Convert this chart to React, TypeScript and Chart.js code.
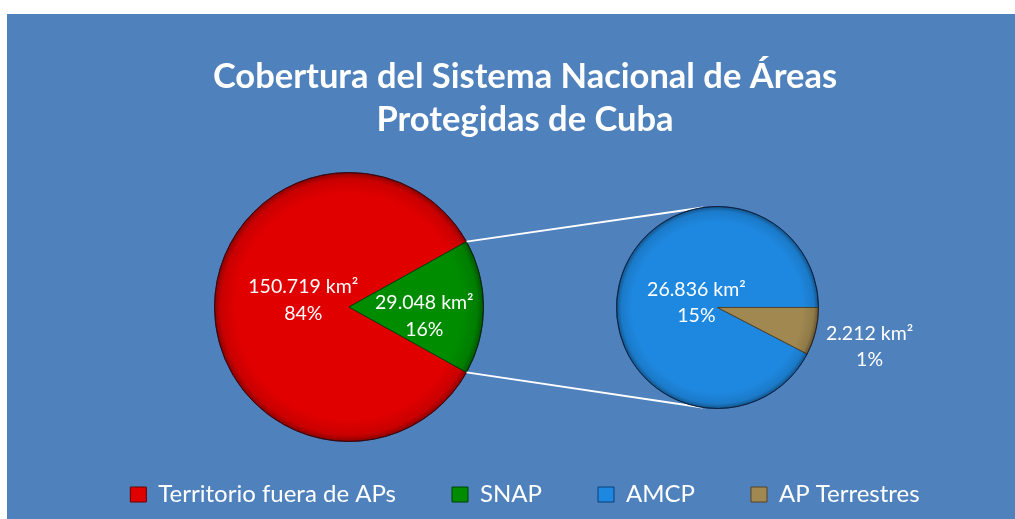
import React, { useEffect, useRef } from "react";
import { Chart, registerables } from "chart.js";
Chart.register(...registerables);

const TITLE_LINES = ["Cobertura del Sistema Nacional de Áreas", "Protegidas de Cuba"];
const CATEGORIES = ["Territorio fuera de APs", "SNAP", "AMCP", "AP Terrestres"];
const PRIMARY_LABELS = ["Territorio fuera de APs", "SNAP"];
const PRIMARY_VALUES = [150719, 29048];
const SECONDARY_LABELS = ["AMCP", "AP Terrestres"];
const SECONDARY_VALUES = [26836, 2212];
const UNIT = " km²";

const COLORS = ["#E00000", "#008C00", "#1E88E0", "#A08850"];
const BORDER_COLORS = ["#6A0000", "#004200", "#0A3F78", "#564524"];
const BG = "#4F81BD";
const FONT = "Lato";
const W = 1008;
const H = 505;

const TOTAL = PRIMARY_VALUES.reduce((a, b) => a + b, 0);
const SEC_TOTAL = SECONDARY_VALUES.reduce((a, b) => a + b, 0);

function fmt(v: number) {
  return String(v).replace(/\B(?=(\d{3})+(?!\d))/g, ".");
}

function pieDecorPlugin(id: string, values: number[], factors: number[], shifts: number[][]) {
  return {
    id,
    afterDatasetsDraw(chart: any) {
      const meta = chart.getDatasetMeta(0);
      const arcs = meta.data;
      if (!arcs.length) return;
      const ctx = chart.ctx as CanvasRenderingContext2D;
      const { x, y, outerRadius: R } = arcs[0].getProps(["x", "y", "outerRadius"], true);
      ctx.save();
      const g = ctx.createRadialGradient(x, y, R * 0.84, x, y, R);
      g.addColorStop(0, "rgba(0,0,0,0)");
      g.addColorStop(0.7, "rgba(0,0,0,0.1)");
      g.addColorStop(1, "rgba(0,0,0,0.38)");
      ctx.beginPath();
      ctx.arc(x, y, R, 0, Math.PI * 2);
      ctx.fillStyle = g;
      ctx.fill();
      ctx.lineWidth = 1;
      ctx.strokeStyle = "rgba(20,20,40,0.6)";
      ctx.stroke();

      ctx.fillStyle = "#ffffff";
      ctx.font = `19.5px ${FONT}`;
      ctx.textAlign = "center";
      ctx.textBaseline = "middle";
      arcs.forEach((arc: any, i: number) => {
        const p = arc.getProps(["startAngle", "endAngle"], true);
        const mid = (p.startAngle + p.endAngle) / 2;
        const cx = x + Math.cos(mid) * R * factors[i] + shifts[i][0];
        const cy = y + Math.sin(mid) * R * factors[i] + shifts[i][1];
        ctx.fillText(fmt(values[i]) + UNIT, cx, cy - 13);
        ctx.fillText(Math.round((values[i] / TOTAL) * 100) + "%", cx, cy + 13.5);
      });
      ctx.restore();
    },
  };
}

export default function App() {
  const frameRef = useRef<HTMLCanvasElement | null>(null);
  const leftRef = useRef<HTMLCanvasElement | null>(null);
  const rightRef = useRef<HTMLCanvasElement | null>(null);

  useEffect(() => {
    Chart.defaults.font.family = FONT;

    const frame = new Chart(frameRef.current as HTMLCanvasElement, {
      type: "pie",
      data: { labels: CATEGORIES, datasets: [] },
      options: {
        responsive: false,
        animation: false,
        devicePixelRatio: 1,
        layout: { padding: { left: 28, right: 0, top: 0, bottom: 2.5 } },
        plugins: {
          tooltip: { enabled: false },
          title: {
            display: true,
            text: TITLE_LINES,
            color: "#ffffff",
            font: { size: 34.5, weight: "bold", family: FONT, lineHeight: 1.26 },
            padding: { top: 41, bottom: 0 },
          },
          legend: {
            display: true,
            position: "bottom",
            labels: {
              color: "#ffffff",
              font: { size: 24, family: FONT },
              boxWidth: 16,
              boxHeight: 15,
              padding: 56,
              generateLabels: () =>
                CATEGORIES.map((text, i) => ({
                  text,
                  fillStyle: COLORS[i],
                  strokeStyle: BORDER_COLORS[i],
                  lineWidth: 1,
                  hidden: false,
                  index: i,
                  fontColor: "#ffffff",
                })),
            },
          },
        },
      } as any,
    });

    const left = new Chart(leftRef.current as HTMLCanvasElement, {
      type: "pie",
      data: {
        labels: PRIMARY_LABELS,
        datasets: [
          {
            data: PRIMARY_VALUES,
            backgroundColor: COLORS.slice(0, 2),
            borderColor: BORDER_COLORS.slice(0, 2),
            borderWidth: 1,
          },
        ],
      },
      options: {
        responsive: false,
        animation: false,
        devicePixelRatio: 1,
        rotation: 90 + (180 * PRIMARY_VALUES[1]) / TOTAL,
        layout: { padding: { left: 207, right: 531, top: 158, bottom: 77 } },
        plugins: {
          legend: { display: false },
          title: { display: false },
          tooltip: { enabled: false },
        },
      } as any,
      plugins: [pieDecorPlugin("leftDecor", PRIMARY_VALUES, [0.34, 0.56], [[0, -7], [0, 9]])],
    });

    const connectorPlugin = {
      id: "connectors",
      beforeDatasetsDraw(chart: any) {
        const la = left.getDatasetMeta(0).data[1] as any;
        const ra = chart.getDatasetMeta(0).data[0] as any;
        if (!la || !ra) return;
        const L = la.getProps(["x", "y", "outerRadius", "startAngle", "endAngle"], true);
        const Rp = ra.getProps(["x", "y", "outerRadius"], true);
        const ctx = chart.ctx as CanvasRenderingContext2D;
        ctx.save();
        ctx.strokeStyle = "#ffffff";
        ctx.lineWidth = 2;
        const ends: [number, number][] = [
          [L.startAngle, -1],
          [L.endAngle, 1],
        ];
        ends.forEach(([ang, sign]) => {
          const px = L.x + L.outerRadius * Math.cos(ang);
          const py = L.y + L.outerRadius * Math.sin(ang);
          const dx = Rp.x - px;
          const dy = Rp.y - py;
          const d = Math.hypot(dx, dy);
          const theta = Math.atan2(dy, dx);
          const alpha = Math.asin(Rp.outerRadius / d);
          const len = Math.sqrt(d * d - Rp.outerRadius * Rp.outerRadius);
          const phi = theta + sign * alpha;
          ctx.beginPath();
          ctx.moveTo(px, py);
          ctx.lineTo(px + len * Math.cos(phi), py + len * Math.sin(phi));
          ctx.stroke();
        });
        ctx.restore();
      },
    };

    const right = new Chart(rightRef.current as HTMLCanvasElement, {
      type: "pie",
      data: {
        labels: SECONDARY_LABELS,
        datasets: [
          {
            data: SECONDARY_VALUES,
            backgroundColor: COLORS.slice(2, 4),
            borderColor: BORDER_COLORS.slice(2, 4),
            borderWidth: 1,
          },
        ],
      },
      options: {
        responsive: false,
        animation: false,
        devicePixelRatio: 1,
        rotation: 90 + (360 * SECONDARY_VALUES[1]) / SEC_TOTAL,
        layout: { padding: { left: 609, right: 196, top: 192, bottom: 110 } },
        plugins: {
          legend: { display: false },
          title: { display: false },
          tooltip: { enabled: false },
        },
      } as any,
      plugins: [
        connectorPlugin,
        pieDecorPlugin("rightDecor", SECONDARY_VALUES, [0.215, 1.55], [[0, 0], [0, 2]]),
      ],
    });

    return () => {
      right.destroy();
      left.destroy();
      frame.destroy();
    };
  }, []);

  const canvasStyle: React.CSSProperties = { position: "absolute", left: 0, top: 0 };
  return (
    <div
      style={{
        position: "fixed",
        left: 7,
        top: 14,
        width: W,
        height: H,
        background: BG,
        overflow: "hidden",
      }}
    >
      <canvas ref={frameRef} width={W} height={H} style={canvasStyle} />
      <canvas ref={leftRef} width={W} height={H} style={canvasStyle} />
      <canvas ref={rightRef} width={W} height={H} style={canvasStyle} />
    </div>
  );
}
